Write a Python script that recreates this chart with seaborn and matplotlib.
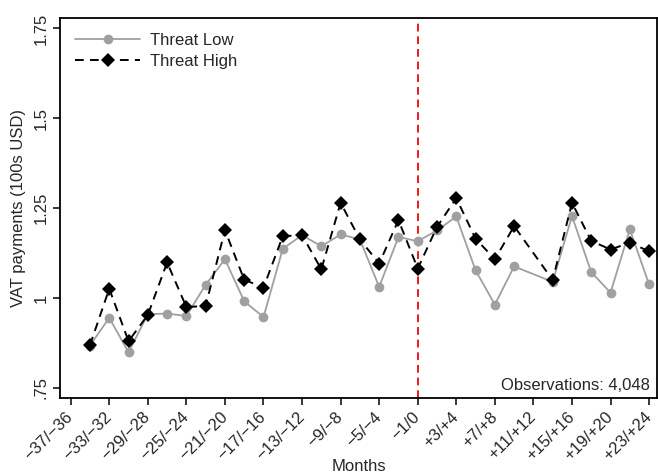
import numpy as np
import pandas as pd
import matplotlib
matplotlib.use("Agg")
import matplotlib.pyplot as plt
import seaborn as sns

# Two-month bins relative to the event month
periods = [
    "\u221237/\u221236", "\u221235/\u221234", "\u221233/\u221232", "\u221231/\u221230",
    "\u221229/\u221228", "\u221227/\u221226", "\u221225/\u221224", "\u221223/\u221222",
    "\u221221/\u221220", "\u221219/\u221218", "\u221217/\u221216", "\u221215/\u221214",
    "\u221213/\u221212", "\u221211/\u221210", "\u22129/\u22128", "\u22127/\u22126",
    "\u22125/\u22124", "\u22123/\u22122", "\u22121/0", "+1/+2", "+3/+4", "+5/+6",
    "+7/+8", "+9/+10", "+11/+12", "+13/+14", "+15/+16", "+17/+18", "+19/+20",
    "+21/+22", "+23/+24",
]

# Mean VAT payments (100s USD); NaN where no estimate is available
threat_low = [
    np.nan, 0.868, 0.945, 0.849, 0.955, 0.957, 0.950, 1.037, 1.108, 0.991,
    0.947, 1.137, 1.175, 1.144, 1.177, 1.163, 1.031, 1.170, 1.158, 1.188,
    1.227, 1.077, 0.982, 1.088, np.nan, 1.045, 1.228, 1.072, 1.015, 1.191,
    1.038,
]
threat_high = [
    np.nan, 0.869, 1.026, 0.880, 0.953, 1.099, 0.975, 0.978, 1.189, 1.051,
    1.029, 1.172, 1.175, 1.080, 1.265, 1.163, 1.096, 1.217, 1.082, 1.198,
    1.278, 1.165, 1.108, 1.200, np.nan, 1.050, 1.265, 1.159, 1.135, 1.154,
    1.130,
]

event_period = "\u22121/0"
n_obs = "4,048"

y_ticks = [0.75, 1.0, 1.25, 1.5, 1.75]
y_ticklabels = [".75", "1", "1.25", "1.5", "1.75"]

sns.set_theme(style="white")
plt.rcParams["font.family"] = ["Liberation Sans", "DejaVu Sans"]
plt.rcParams["axes.unicode_minus"] = True

fig = plt.figure(figsize=(6.58, 4.74), dpi=100)
ax = fig.add_axes([60 / 658, 76 / 474, 597 / 658, 380 / 474])

df = pd.DataFrame({
    "pos": np.arange(len(periods)),
    "period": periods,
    "low": threat_low,
    "high": threat_high,
})
low_df = df.dropna(subset=["low"])
high_df = df.dropna(subset=["high"])

sns.lineplot(data=low_df, x="pos", y="low", ax=ax, color="#a0a0a0",
             marker="o", markersize=7, markeredgewidth=0, linewidth=1.3,
             label="Threat Low")
sns.lineplot(data=high_df, x="pos", y="high", ax=ax, color="black",
             marker="D", markersize=7.5, markeredgewidth=0, linewidth=1.4,
             linestyle=(0, (4.5, 3.2)), label="Threat High")

ax.axvline(periods.index(event_period), color="#f01818", linewidth=1.4,
           linestyle=(0, (4, 2.5)), zorder=1)

ax.set_xlim(-0.555, 30.41)
ax.set_ylim(0.722, 1.779)

tick_pos = np.arange(0, len(periods), 2)
ax.set_xticks(tick_pos)
ax.set_xticklabels([periods[i] for i in tick_pos], rotation=45, ha="right",
                   va="center", rotation_mode="anchor", fontsize=12)
ax.set_yticks(y_ticks)
ax.set_yticklabels(y_ticklabels, rotation=90, va="center", fontsize=12)

ax.tick_params(axis="y", which="major", direction="out", length=5,
               width=1.1, color="black", left=True, pad=3)
ax.tick_params(axis="x", which="major", direction="out", length=5,
               width=1.1, color="black", bottom=True, pad=7)
for side in ["left", "bottom", "top", "right"]:
    ax.spines[side].set_color("black")
    ax.spines[side].set_linewidth(1.3)

ax.set_xlabel("Months", fontsize=12, labelpad=-3)
ax.set_ylabel("VAT payments (100s USD)", fontsize=12, labelpad=6)

ax.text(0.988, 0.012, f"Observations: {n_obs}", transform=ax.transAxes,
        ha="right", va="bottom", fontsize=12)

leg = ax.legend(loc="upper left", frameon=False, fontsize=12,
                handlelength=3.9, handletextpad=0.6, labelspacing=0.35,
                borderaxespad=0.5)

fig.savefig("out.png", dpi=100)
